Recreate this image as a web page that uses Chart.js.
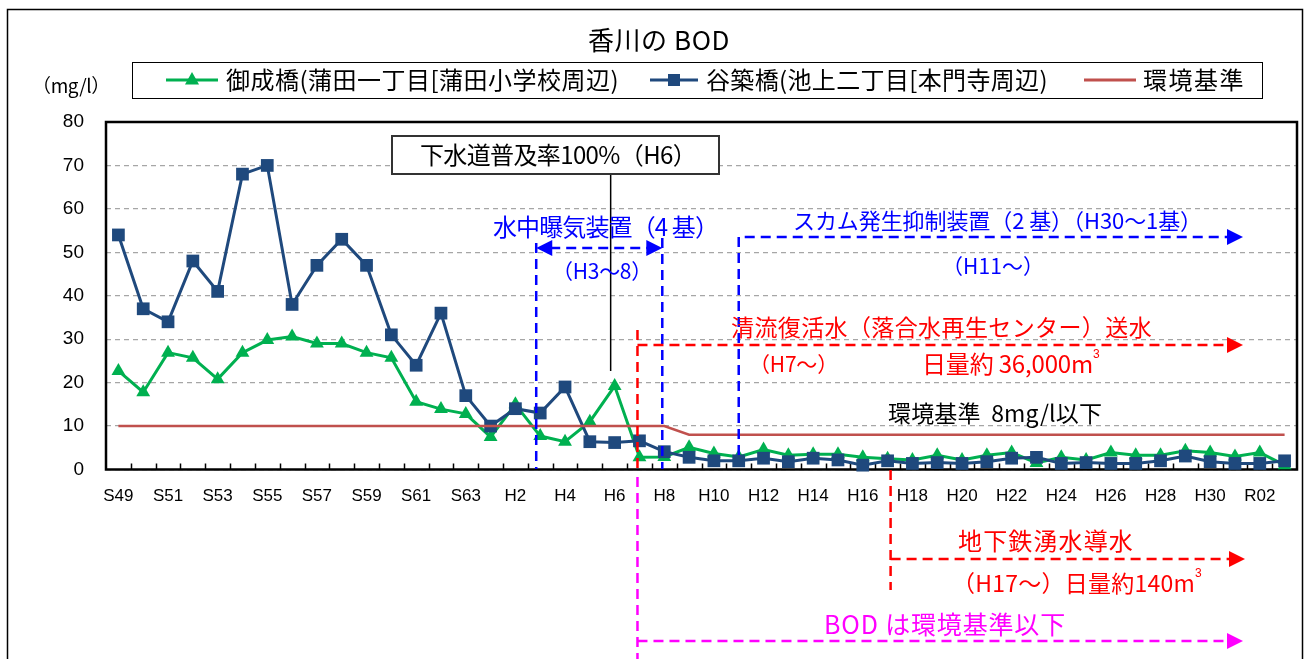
<!DOCTYPE html>
<html lang="ja">
<head>
<meta charset="utf-8">
<title>香川の BOD</title>
<script src="https://cdn.jsdelivr.net/npm/chart.js@4.4.1/dist/chart.umd.min.js"></script>
<style>
  html, body { margin: 0; padding: 0; background: #fff; }
  #wrap { width: 1306px; height: 659px; }
</style>
</head>
<body>
<div id="wrap"><canvas id="bodChart" width="1306" height="659"></canvas></div>
<script>
// 年度 (S49 〜 R03)
const years = ['S49','S50','S51','S52','S53','S54','S55','S56','S57','S58','S59','S60','S61','S62','S63',
  'H1','H2','H3','H4','H5','H6','H7','H8','H9','H10','H11','H12','H13','H14','H15','H16',
  'H17','H18','H19','H20','H21','H22','H23','H24','H25','H26','H27','H28','H29','H30','R01','R02','R03'];

// 御成橋(蒲田一丁目[蒲田小学校周辺)
const onariBashi = [22.7, 17.8, 26.9, 25.7, 20.8, 26.9, 29.8, 30.6, 29.0, 29.0, 26.9, 25.7, 15.6, 13.9, 12.8,
  7.5, 15.0, 7.7, 6.4, 11.0, 19.2, 2.8, 2.9, 5.1, 3.7, 2.9, 4.6, 3.3, 3.5, 3.5, 2.8,
  2.5, 2.2, 3.3, 2.2, 3.3, 3.9, 1.5, 2.8, 2.2, 3.9, 3.3, 3.3, 4.3, 3.9, 3.0, 3.9, 1.0];

// 谷築橋(池上二丁目[本門寺周辺)
const yatsukiBashi = [54, 37, 34, 48, 41, 68, 70, 38, 47, 53, 47, 31, 24, 36, 17,
  10, 14, 13, 19, 6.4, 6.2, 6.6, 4.1, 2.8, 2.0, 2.0, 2.6, 1.8, 2.6, 2.2, 1.0,
  2.0, 1.4, 1.6, 1.4, 1.8, 2.6, 2.8, 1.4, 1.6, 1.4, 1.4, 2.0, 3.1, 1.8, 1.4, 1.4, 2.0];

// 環境基準
const kankyoKijun = [10, 10, 10, 10, 10, 10, 10, 10, 10, 10, 10, 10, 10, 10, 10,
  10, 10, 10, 10, 10, 10, 10, 10, 8, 8, 8, 8, 8, 8, 8, 8,
  8, 8, 8, 8, 8, 8, 8, 8, 8, 8, 8, 8, 8, 8, 8, 8, 8];

const yMin = 0, yMax = 80, yStep = 10;

const JP = '"Noto Sans CJK JP", "Noto Sans", sans-serif';
const LAT = '"Liberation Sans", Arial, sans-serif';

const GREEN = '#00B050';
const NAVY = '#1F497D';
const BROWN = '#C0504D';

function dashLine(ctx, pts, color) {
    ctx.save();
    ctx.strokeStyle = color;
    ctx.lineWidth = 2.5;
    ctx.setLineDash([10, 6]);
    ctx.beginPath();
    ctx.moveTo(pts[0][0], pts[0][1]);
    for (let i = 1; i < pts.length; i++) ctx.lineTo(pts[i][0], pts[i][1]);
    ctx.stroke();
    ctx.restore();
}

function arrowHead(ctx, x, y, dir, color) {
    ctx.save();
    ctx.fillStyle = color;
    ctx.beginPath();
    ctx.moveTo(x, y);
    ctx.lineTo(x - dir * 16, y - 8);
    ctx.lineTo(x - dir * 16, y + 8);
    ctx.closePath();
    ctx.fill();
    ctx.restore();
}

// draw text spread between left and right (letter spacing adjusted), sup = small "3" after it
function fitText(ctx, str, left, right, y, color, size, sup) {
    ctx.save();
    ctx.font = size + 'px ' + JP;
    ctx.fillStyle = color;
    ctx.textAlign = 'left';
    ctx.textBaseline = 'middle';
    ctx.letterSpacing = '0px';
    const room = (right - left) - (sup ? 7 : 0);
    const w = ctx.measureText(str).width;
    const n = Array.from(str).length;
    const ls = (room - w) / n;
    ctx.letterSpacing = ls.toFixed(2) + 'px';
    ctx.fillText(str, left, y);
    if (sup) {
        const w2 = ctx.measureText(str).width;
        ctx.letterSpacing = '0px';
        ctx.font = '12px ' + LAT;
        ctx.fillText('3', left + w2, y - 9);
    }
    ctx.restore();
}

// frame, title, legend, axis unit
const frame = {
    id: 'frame',
    beforeDatasetsDraw(chart) {
        const ctx = chart.ctx;
        const a = chart.chartArea;
        const xs = chart.scales.x;
        ctx.save();
        // inward tick marks between categories
        ctx.strokeStyle = '#000';
        ctx.lineWidth = 1.5;
        ctx.beginPath();
        for (let i = 1; i < years.length; i++) {
            const tx = Math.round((xs.getPixelForValue(i - 1) + xs.getPixelForValue(i)) / 2) + 0.5;
            ctx.moveTo(tx, a.bottom);
            ctx.lineTo(tx, a.bottom - 6);
        }
        ctx.stroke();
        // plot border
        ctx.lineWidth = 2.5;
        ctx.strokeRect(a.left, a.top, a.right - a.left, a.bottom - a.top);
        ctx.restore();
    },
    afterDraw(chart) {
        const ctx = chart.ctx;
        ctx.save();
        // outer frame
        ctx.strokeStyle = '#000';
        ctx.lineWidth = 1.5;
        ctx.strokeRect(7.5, 9.5, 1295, 680);

        fitText(ctx, '香川の BOD', 588, 730, 40, '#000', 26);
        fitText(ctx, '（mg/l）', 32, 110, 86, '#000', 19);

        // legend
        ctx.lineWidth = 1;
        ctx.strokeStyle = '#000';
        ctx.strokeRect(132.5, 62.5, 1130, 36);
        const ly = 80;
        ctx.lineWidth = 3;
        ctx.strokeStyle = GREEN;
        ctx.beginPath(); ctx.moveTo(166, ly); ctx.lineTo(218, ly); ctx.stroke();
        ctx.fillStyle = GREEN;
        ctx.beginPath(); ctx.moveTo(192, ly - 8); ctx.lineTo(199, ly + 4.5); ctx.lineTo(185, ly + 4.5); ctx.closePath(); ctx.fill();
        fitText(ctx, '御成橋(蒲田一丁目[蒲田小学校周辺)', 226, 619, ly, '#000', 24);

        ctx.strokeStyle = NAVY;
        ctx.beginPath(); ctx.moveTo(650, ly); ctx.lineTo(698, ly); ctx.stroke();
        ctx.fillStyle = NAVY;
        ctx.fillRect(668, ly - 6, 12, 12);
        fitText(ctx, '谷築橋(池上二丁目[本門寺周辺)', 706, 1048, ly, '#000', 24);

        ctx.strokeStyle = BROWN;
        ctx.beginPath(); ctx.moveTo(1084, ly); ctx.lineTo(1136, ly); ctx.stroke();
        fitText(ctx, '環境基準', 1143, 1245, ly, '#000', 24);
        ctx.restore();
    }
};

// 注記 (arrows and notes)
const notes = {
    id: 'notes',
    afterDraw(chart) {
        const ctx = chart.ctx;
        const xs = chart.scales.x;
        const px = name => xs.getPixelForValue(years.indexOf(name));
        const tip = 1243;

        // 下水道普及率100%(H6)
        const xH6 = px('H6') - 4;
        ctx.save();
        ctx.strokeStyle = '#000';
        ctx.lineWidth = 1.5;
        ctx.beginPath(); ctx.moveTo(xH6, 174); ctx.lineTo(xH6, 371); ctx.stroke();
        ctx.fillStyle = '#fff';
        ctx.fillRect(392, 136, 327, 38);
        ctx.strokeStyle = '#333';
        ctx.lineWidth = 2;
        ctx.strokeRect(392, 136, 327, 38);
        ctx.restore();
        fitText(ctx, '下水道普及率100%（H6）', 420, 696, 155, '#000', 24);

        // 水中曝気装置 (H3〜8)
        const blue = '#0000FF';
        const xH3 = px('H3') - 4, xH8 = px('H8') - 2;
        dashLine(ctx, [[xH3, 243], [xH3, 469]], blue);
        dashLine(ctx, [[xH8, 238], [xH8, 469]], blue);
        dashLine(ctx, [[xH3 + 14, 248], [xH8 - 14, 248]], blue);
        arrowHead(ctx, xH3, 248, -1, blue);
        arrowHead(ctx, xH8, 248, 1, blue);
        fitText(ctx, '水中曝気装置（4 基）', 493, 718, 227, blue, 24);
        fitText(ctx, '（H3～8）', 552, 652, 271, blue, 21);

        // スカム発生抑制装置 (H11〜)
        const xH11 = px('H11');
        dashLine(ctx, [[xH11, 455], [xH11, 237], [tip - 14, 237]], blue);
        arrowHead(ctx, tip, 237, 1, blue);
        fitText(ctx, 'スカム発生抑制装置（2 基）（H30～1基）', 793, 1202, 221, blue, 22);
        fitText(ctx, '（H11～）', 942, 1044, 266, blue, 21);

        // 清流復活水 (H7〜)
        const red = '#FF0000';
        const xH7 = px('H7') - 2;
        dashLine(ctx, [[xH7, 468], [xH7, 328]], red);
        dashLine(ctx, [[xH7, 345], [tip - 14, 345]], red);
        arrowHead(ctx, tip, 345, 1, red);
        fitText(ctx, '清流復活水（落合水再生センター）送水', 731, 1152, 327, red, 23);
        fitText(ctx, '（H7～）', 749, 838, 364, red, 21);
        fitText(ctx, '日量約 36,000m', 922, 1100, 364, red, 24, true);

        fitText(ctx, '環境基準  8mg/l以下', 888, 1102, 413, '#000', 23);

        // 地下鉄湧水導水 (H17〜)
        const xH17 = px('H17') + 3;
        dashLine(ctx, [[xH17, 470], [xH17, 590]], red);
        dashLine(ctx, [[xH17, 559], [tip - 12, 559]], red);
        arrowHead(ctx, tip + 2, 559, 1, red);
        fitText(ctx, '地下鉄湧水導水', 958, 1134, 541, red, 24);
        fitText(ctx, '（H17～）日量約140m', 952, 1202, 583, red, 23, true);

        // BOD は環境基準以下
        const pink = '#FF00FF';
        dashLine(ctx, [[xH7, 477], [xH7, 659]], pink);
        dashLine(ctx, [[xH7, 641], [tip - 14, 641]], pink);
        arrowHead(ctx, tip, 641, 1, pink);
        fitText(ctx, 'BOD は環境基準以下', 824, 1066, 624, pink, 25);
    }
};

const ctx = document.getElementById('bodChart').getContext('2d');
const chart = new Chart(ctx, {
    type: 'line',
    data: {
        labels: years,
        datasets: [
            {
                label: '環境基準',
                data: kankyoKijun,
                borderColor: BROWN,
                borderWidth: 2.5,
                pointRadius: 0,
                tension: 0,
                clip: false
            },
            {
                label: '谷築橋(池上二丁目[本門寺周辺)',
                data: yatsukiBashi,
                borderColor: NAVY,
                backgroundColor: NAVY,
                borderWidth: 3,
                pointStyle: 'rect',
                pointRadius: 9,
                pointBorderWidth: 0,
                tension: 0,
                clip: false
            },
            {
                label: '御成橋(蒲田一丁目[蒲田小学校周辺)',
                data: onariBashi,
                borderColor: GREEN,
                backgroundColor: GREEN,
                borderWidth: 3,
                pointStyle: 'triangle',
                pointRadius: 8,
                pointBorderWidth: 0,
                tension: 0,
                clip: false
            }
        ]
    },
    options: {
        responsive: false,
        animation: false,
        layout: { padding: { left: 0, top: 122, right: 8, bottom: 0 } },
        plugins: {
            legend: { display: false },
            title: { display: false },
            tooltip: { enabled: false }
        },
        scales: {
            x: {
                offset: true,
                grid: { display: false, drawTicks: false },
                border: { display: false },
                ticks: {
                    autoSkip: false,
                    maxRotation: 0,
                    padding: 17,
                    color: '#000',
                    font: { family: LAT, size: 17 },
                    callback: (v, i) => (i % 2 === 0 ? years[i] : '')
                },
                afterFit: s => { s.height = 189.5; }
            },
            y: {
                min: yMin,
                max: yMax,
                grid: {
                    drawTicks: false,
                    color: '#A6A6A6',
                    lineWidth: 1.3
                },
                border: { display: false, dash: [5, 4] },
                ticks: {
                    stepSize: yStep,
                    padding: 22,
                    color: '#000',
                    font: { family: LAT, size: 19 }
                },
                afterFit: s => { s.width = 106; }
            }
        }
    },
    plugins: [frame, notes]
});
</script>
</body>
</html>
